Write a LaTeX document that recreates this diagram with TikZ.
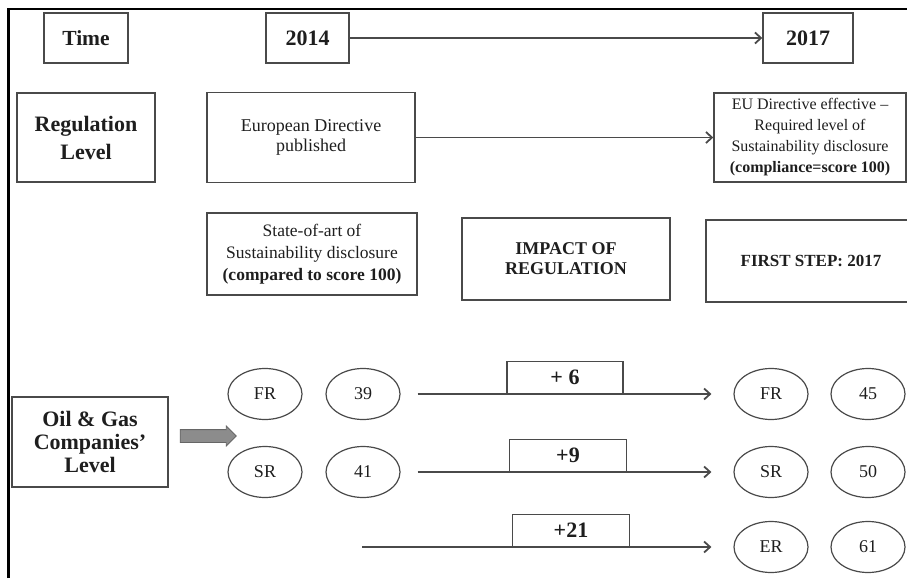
\documentclass[tikz,border=0pt]{standalone}
\usepackage{fontspec}
\setmainfont{Liberation Serif}
\usepackage{tikz}
\usetikzlibrary{arrows.meta,shapes.geometric,shapes.arrows}
\definecolor{ink}{HTML}{1E1E1E}
\definecolor{edge}{HTML}{4A4A4A}
\definecolor{blockgray}{HTML}{8C8C8C}
\newcommand{\fsz}[2]{\fontsize{#1}{#2}\selectfont}

\begin{document}
\begin{tikzpicture}[
  x=1pt, y=-1pt,
  box/.style={draw=edge, line width=1.4pt, align=center, text=ink, inner sep=2pt},
  oval/.style={ellipse, draw=edge, line width=1.2pt, minimum width=74pt, minimum height=51pt, inner sep=0pt, text=ink, font=\fsz{18}{20}},
  delta/.style={box, anchor=south, minimum height=32pt, font=\bfseries\fsz{22}{24}},
  arr/.style={draw=edge, line width=1.8pt, -{Straight Barb[length=6pt,width=11pt]}},
]
  \useasboundingbox (0,0) rectangle (907,578);
  \draw[black, line width=2.5pt] (8.5,578) -- (8.5,9) -- (907,9);

  % time row
  \node[box, minimum width=84pt, minimum height=50pt, font=\bfseries\fsz{21.5}{24}] (time) at (86,38) {Time};
  \node[box, minimum width=83pt, minimum height=50pt, font=\bfseries\fsz{22}{24}] (y2014) at (307.5,38) {2014};
  \node[box, minimum width=90pt, minimum height=50pt, font=\bfseries\fsz{22}{24}] (y2017) at (808,38) {2017};
  \draw[arr] (y2014) -- (y2017);

  % regulation row
  \node[box, minimum width=138pt, minimum height=89pt, font=\bfseries\fsz{22}{28}] (reg) at (86,137.5) {Regulation\\Level};
  \node[box, minimum width=208pt, minimum height=90pt, font=\fsz{18}{20}] (eudir) at (311,137.5) {European Directive\\published};
  \node[box, minimum width=192pt, minimum height=89pt, font=\fsz{16}{21}] (eueff) at (810,137.5) {EU Directive effective --\\Required level of\\Sustainability disclosure\\\textbf{(compliance=score 100)}};
  \draw[arr] (eudir) -- (eueff);

  \node[box, minimum width=210pt, minimum height=82pt, font=\fsz{17.5}{22}] (state) at (312,254) {State-of-art of\\Sustainability disclosure\\\textbf{(compared to score 100)}};
  \node[box, minimum width=208pt, minimum height=82pt, font=\bfseries\fsz{18}{20}] (impact) at (566,259) {IMPACT OF\\REGULATION};
  \node[box, minimum width=210pt, minimum height=82pt, font=\bfseries\fsz{17}{20}] (first) at (811,261) {FIRST STEP: 2017};

  % companies
  \node[box, minimum width=156pt, minimum height=90pt, font=\bfseries\fsz{22}{23}] (oil) at (90,442) {Oil \& Gas\\Companies'\\Level};
  \node[single arrow, draw=black!60, fill=blockgray, line width=0.8pt, minimum height=56pt, minimum width=0pt, inner xsep=0pt, inner ysep=6pt, single arrow head extend=3.5pt] (push) at (205,436) {};

  \node[oval] (fr1) at (265,394) {FR};
  \node[oval] (v39) at (363,394) {39};
  \node[oval] (fr2) at (771,394) {FR};
  \node[oval] (v45) at (868,394) {45};
  \node[oval] (sr1) at (265,472) {SR};
  \node[oval] (v41) at (363,472) {41};
  \node[oval] (sr2) at (771,472) {SR};
  \node[oval] (v50) at (868,472) {50};
  \node[oval] (er) at (771,547) {ER};
  \node[oval] (v61) at (868,547) {61};

  \node[delta, minimum width=116pt] (d6) at (565,394) {+ 6};
  \node[delta, minimum width=117pt] (d9) at (568,472) {+9};
  \node[delta, minimum width=117pt] (d21) at (571,547) {+21};
  \coordinate (s3) at (362,547);

  \draw[arr, shorten <=17pt, shorten >=22pt] (v39) -- (fr2);
  \draw[arr, shorten <=17pt, shorten >=22pt] (v41) -- (sr2);
  \draw[arr, shorten >=22pt] (s3) -- (er);
\end{tikzpicture}
\end{document}
